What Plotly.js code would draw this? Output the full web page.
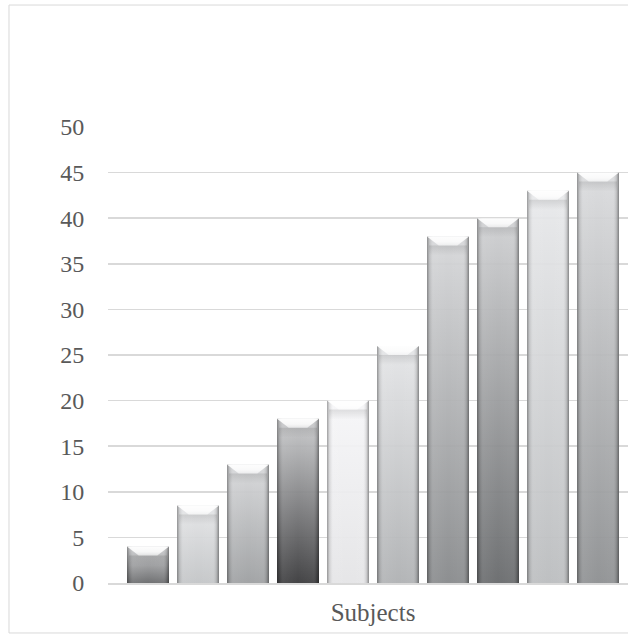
<!DOCTYPE html>
<html>
<head>
<meta charset="utf-8">
<script src="https://cdn.plot.ly/plotly-3.0.1.min.js"></script>
<style>
  html, body { margin: 0; padding: 0; overflow: hidden; background: #ffffff; }
  #chart { width: 650px; height: 634px; }
</style>
</head>
<body>
<div id="chart"></div>
<script>
// One category on the x axis, ten series of bars inside it
const category = ['Subjects'];
const seriesNames = ['Series 1', 'Series 2', 'Series 3', 'Series 4', 'Series 5',
                     'Series 6', 'Series 7', 'Series 8', 'Series 9', 'Series 10'];
const seriesValues = [4, 8.5, 13, 18, 20, 26, 38, 40, 43, 45];
const yTicks = [0, 5, 10, 15, 20, 25, 30, 35, 40, 45, 50];

// Gray shading of each bar: [top, bottom]
const barShades = [
  ['#cfd0d2', '#67686a'],
  ['#e4e5e7', '#c2c4c6'],
  ['#d6d7d9', '#9c9ea0'],
  ['#c9cacc', '#38383a'],
  ['#f6f6f8', '#e4e4e6'],
  ['#e4e5e7', '#aeb0b2'],
  ['#d6d7d9', '#86888a'],
  ['#cfd0d2', '#66686a'],
  ['#e8e9eb', '#babcbe'],
  ['#dadbdd', '#8c8e90']
];

const traces = seriesNames.map((name, i) => ({
  type: 'bar',
  name: name,
  x: category,
  y: [seriesValues[i]],
  marker: { color: barShades[i][1], line: { width: 0 } },
  hoverinfo: 'y'
}));

const gray = '#595959';
const gridGray = '#d9d9d9';

const layout = {
  width: 650,
  height: 634,
  margin: { l: 108, r: 12, t: 127, b: 51 },
  paper_bgcolor: '#ffffff',
  plot_bgcolor: '#ffffff',
  showlegend: false,
  barmode: 'group',
  bargap: 0.0566,
  bargroupgap: 0.16,
  font: { family: '"Liberation Serif", "Times New Roman", serif', color: gray },
  xaxis: {
    type: 'category',
    showline: true,
    linecolor: gridGray,
    linewidth: 1.5,
    showgrid: false,
    ticks: 'outside',
    ticklen: 6,
    tickcolor: 'rgba(0,0,0,0)',
    tickfont: { size: 25, color: gray, family: '"Liberation Serif", serif' },
    fixedrange: true
  },
  yaxis: {
    range: [0, 50],
    tickvals: yTicks,
    ticktext: yTicks.map(String),
    showline: false,
    zeroline: false,
    showgrid: true,
    gridcolor: gridGray,
    gridwidth: 1.5,
    ticks: 'outside',
    ticklen: 18,
    tickcolor: 'rgba(0,0,0,0)',
    tickfont: { size: 24, color: gray, family: '"Liberation Serif", serif' },
    fixedrange: true
  },
  shapes: [{
    type: 'rect', xref: 'paper', yref: 'paper',
    x0: -0.1868, x1: 1.2, y0: -0.1096, y1: 1.2675,
    line: { color: gridGray, width: 1 },
    fillcolor: 'rgba(0,0,0,0)',
    layer: 'below'
  }]
};

const SVGNS = 'http://www.w3.org/2000/svg';

function stop(grad, offset, color, opacity) {
  const s = document.createElementNS(SVGNS, 'stop');
  s.setAttribute('offset', offset);
  s.setAttribute('stop-color', color);
  s.setAttribute('stop-opacity', opacity);
  grad.appendChild(s);
}

function vGradient(defs, id, y1, y2, stops) {
  const g = document.createElementNS(SVGNS, 'linearGradient');
  g.setAttribute('id', id);
  g.setAttribute('gradientUnits', 'userSpaceOnUse');
  g.setAttribute('x1', 0); g.setAttribute('x2', 0);
  g.setAttribute('y1', y1); g.setAttribute('y2', y2);
  stops.forEach(s => stop(g, s[0], s[1], s[2]));
  defs.appendChild(g);
}

function overlay(parent, d, fill) {
  const p = document.createElementNS(SVGNS, 'path');
  p.setAttribute('d', d);
  p.style.fill = fill;
  p.style.pointerEvents = 'none';
  parent.appendChild(p);
}

// Give each drawn bar a vertical gradient, darker side edges and a bevelled top
function shadeBars(gd) {
  const svg = gd.querySelector('svg.main-svg');
  let defs = svg.querySelector('defs');
  if (!defs) { defs = document.createElementNS(SVGNS, 'defs'); svg.insertBefore(defs, svg.firstChild); }

  const side = document.createElementNS(SVGNS, 'linearGradient');
  side.setAttribute('id', 'bar-side');
  side.setAttribute('x1', '0'); side.setAttribute('x2', '1');
  side.setAttribute('y1', '0'); side.setAttribute('y2', '0');
  stop(side, 0, '#000', 0.35);
  stop(side, 0.06, '#000', 0.10);
  stop(side, 0.14, '#fff', 0.06);
  stop(side, 0.5, '#fff', 0);
  stop(side, 0.86, '#fff', 0.04);
  stop(side, 0.94, '#000', 0.12);
  stop(side, 1, '#000', 0.4);
  defs.appendChild(side);

  const traceGroups = gd.querySelectorAll('.barlayer .trace');
  traceGroups.forEach((tg, i) => {
    tg.querySelectorAll('.point path').forEach(path => {
      const bb = path.getBBox();
      const x0 = bb.x, x1 = bb.x + bb.width, y0 = bb.y, y1 = bb.y + bb.height;

      vGradient(defs, 'bar-fill-' + i, y0, y1,
        [[0, barShades[i][0], 1], [1, barShades[i][1], 1]]);
      path.style.fill = 'url(#bar-fill-' + i + ')';
      path.style.fillOpacity = 0.94;

      const parent = path.parentNode;
      const edge = path.cloneNode(false);
      edge.style.fill = 'url(#bar-side)';
      edge.style.fillOpacity = 1;
      edge.style.pointerEvents = 'none';
      parent.appendChild(edge);

      // soft shadow just below the top face
      const b = Math.min(9, bb.height / 3);
      const sh = Math.min(10, y1 - (y0 + b));
      vGradient(defs, 'bar-shadow-' + i, y0 + b, y0 + b + sh,
        [[0, '#000', 0.10], [1, '#000', 0]]);
      overlay(parent,
        'M' + (x0 + 2) + ',' + (y0 + b) + 'L' + (x1 - 2) + ',' + (y0 + b) +
        'L' + (x1 - 2) + ',' + (y0 + b + sh) + 'L' + (x0 + 2) + ',' + (y0 + b + sh) + 'Z',
        'url(#bar-shadow-' + i + ')');

      // bevelled top face
      vGradient(defs, 'bar-top-' + i, y0, y0 + b,
        [[0, '#ffffff', 0.95], [0.6, '#ffffff', 0.85], [1, '#ffffff', 0.55]]);
      const inset = b * 1.3;
      overlay(parent,
        'M' + x0 + ',' + y0 + 'L' + x1 + ',' + y0 +
        'L' + (x1 - inset) + ',' + (y0 + b) + 'L' + (x0 + inset) + ',' + (y0 + b) + 'Z',
        'url(#bar-top-' + i + ')');
    });
  });
}

Plotly.newPlot('chart', traces, layout, { displayModeBar: false, staticPlot: true })
  .then(gd => shadeBars(gd));
</script>
</body>
</html>
